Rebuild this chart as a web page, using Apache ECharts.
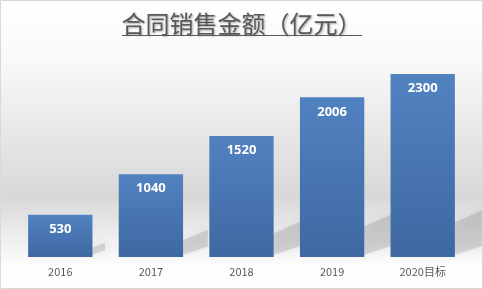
<!DOCTYPE html>
<html><head><meta charset="utf-8">
<script src="https://cdn.jsdelivr.net/npm/echarts@6/dist/echarts.min.js"></script>
<style>html,body{margin:0;padding:0;background:#fff}#c{width:483px;height:289px}</style>
</head><body><div id="c"></div>
<script>
var categories = ['2016', '2017', '2018', '2019', '2020目标'];
var values = [530, 1040, 1520, 2006, 2300];
var titleText = '合同销售金额（亿元）';

var chart = echarts.init(document.getElementById('c'), null, {renderer: 'canvas'});
var barColor = new echarts.graphic.LinearGradient(0, 0, 0, 1, [
  {offset: 0, color: '#5182c0'}, {offset: 1, color: '#3e68a2'}
]);
var option = {
  animation: false,
  backgroundColor: new echarts.graphic.LinearGradient(0, 0, 0, 1, [
    {offset: 0, color: '#ffffff'},
    {offset: 0.22, color: '#f8f8f8'},
    {offset: 0.68, color: '#d8d8d8'},
    {offset: 0.92, color: '#fdfdfd'},
    {offset: 1, color: '#ffffff'}
  ]),
  title: {
    text: titleText, left: 'center', top: 7,
    textStyle: {
      fontFamily: 'Noto Sans CJK SC', fontSize: 24, fontWeight: 'normal', color: '#595959',
      textShadowColor: 'rgba(0,0,0,0.35)', textShadowBlur: 2, textShadowOffsetX: 1, textShadowOffsetY: 1
    }
  },
  graphic: [
    {type: 'line', shape: {x1: 122, y1: 35.5, x2: 362, y2: 35.5}, style: {stroke: '#595959', lineWidth: 1}, z: 10},
    {type: 'rect', shape: {x: 0.5, y: 0.5, width: 482, height: 288}, style: {fill: null, stroke: '#d9d9d9', lineWidth: 1}, z: 10}
  ],
  grid: {left: 15, right: 15, top: 58, bottom: 32},
  xAxis: {
    type: 'category', data: categories,
    axisLine: {show: false}, axisTick: {show: false},
    axisLabel: {color: '#595959', fontSize: 11, margin: 9, fontFamily: 'Noto Sans CJK SC'}
  },
  yAxis: {type: 'value', min: 0, max: 2500, show: false, splitLine: {show: false}},
  series: [
    {
      type: 'custom', z: 1, silent: true,
      data: values.map(function (v, i) { return [i, v]; }),
      renderItem: function (params, api) {
        var top = api.coord([api.value(0), api.value(1)]);
        var bot = api.coord([api.value(0), 0]);
        var bw = api.size([1, 0])[0] * 0.71;
        var h = bot[1] - top[1];
        var xR = bot[0] + bw / 2;
        var yB = bot[1];
        var dx = Math.min(34, h * 0.3);
        var th = Math.max(8, h * 0.18);
        return {
          type: 'polygon',
          shape: {points: [[xR - 4, yB - 1], [xR - 4, yB - th], [xR + dx, yB - th - dx * 0.5], [xR + dx, yB - 3 - dx * 0.3]]},
          style: {fill: 'rgba(110,110,110,0.22)', shadowBlur: 10, shadowColor: 'rgba(110,110,110,0.45)'}
        };
      }
    },
    {
      type: 'bar', z: 2, data: values, barCategoryGap: '29%',
      itemStyle: {color: barColor},
      label: {
        show: true, position: 'insideTop', distance: 8, color: '#ffffff',
        fontWeight: 'bold', fontSize: 13, fontFamily: 'Open Sans'
      }
    }
  ]
};
chart.setOption(option);
</script></body></html>
